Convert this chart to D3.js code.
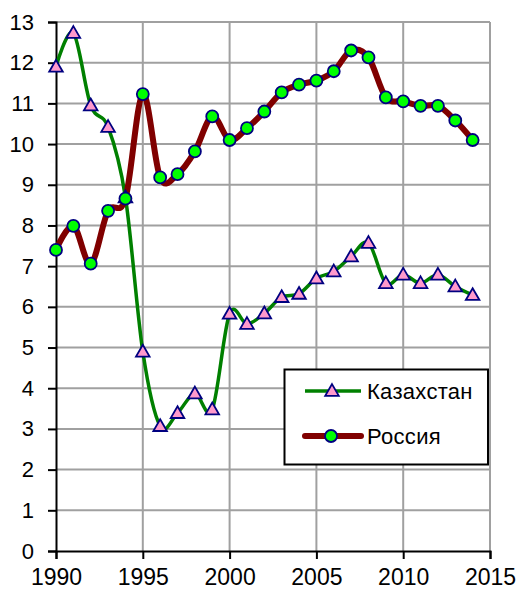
<!DOCTYPE html>
<html><head><meta charset="utf-8">
<script src="https://cdn.jsdelivr.net/npm/d3@7"></script>
<style>body{margin:0;background:#fff}svg{display:block}</style>
</head><body>
<svg id="c" width="519" height="589"></svg>
<script>
const years = d3.range(1990, 2015);
const kazakhstan = [11.9,12.73,10.95,10.42,8.69,4.9,3.07,3.39,3.87,3.48,5.83,5.58,5.84,6.24,6.32,6.7,6.87,7.24,7.57,6.58,6.79,6.58,6.79,6.5,6.29];
const russia = [7.4,7.99,7.06,8.36,8.66,11.23,9.18,9.26,9.82,10.68,10.1,10.39,10.8,11.27,11.46,11.56,11.79,12.3,12.13,11.15,11.05,10.94,10.94,10.58,10.1];
const xTicks = [1990,1995,2000,2005,2010,2015];
const yTicks = d3.range(0, 14);
const seriesNames = ["Казахстан","Россия"];

const svg = d3.select("#c");
const x = d3.scaleLinear().domain([1990,2015]).range([56,490]);
const y = d3.scaleLinear().domain([0,13]).range([551,22]);
const font = "'Liberation Sans', Arial, sans-serif";

// grid
const g = svg.append("g");
g.selectAll(".hg").data(yTicks.filter(d=>d>0)).join("line")
  .attr("x1",x(1990)).attr("x2",x(2015)).attr("y1",d=>y(d)).attr("y2",d=>y(d))
  .attr("stroke","#a0a0a0").attr("stroke-width",2);
g.selectAll(".vg").data(xTicks.filter(d=>d>1990)).join("line")
  .attr("y1",y(0)).attr("y2",y(13)).attr("x1",d=>x(d)).attr("x2",d=>x(d))
  .attr("stroke","#a0a0a0").attr("stroke-width",2);

// axes
const yAxis = d3.axisLeft(y).tickValues(yTicks).tickSize(8).tickPadding(14).tickFormat(d3.format("d"));
const xAxis = d3.axisBottom(x).tickValues(xTicks).tickSize(8).tickPadding(10).tickFormat(d3.format("d"));
const ya = svg.append("g").attr("transform",`translate(${x(1990)},0)`).call(yAxis);
const xa = svg.append("g").attr("transform",`translate(0,${y(0)})`).call(xAxis);
[ya,xa].forEach(a=>{
  a.select(".domain").attr("stroke","#000").attr("stroke-width",2);
  a.selectAll(".tick line").attr("stroke","#000").attr("stroke-width",2);
  a.selectAll("text").attr("font-family",font).attr("fill","#000");
});
ya.selectAll("text").attr("font-size",22);
xa.selectAll("text").attr("font-size",23);

const line = d3.line().x((d,i)=>x(years[i])).y(d=>y(d)).curve(d3.curveCardinal.tension(0));
svg.append("path").datum(kazakhstan).attr("d",line).attr("fill","none").attr("stroke","#008000").attr("stroke-width",3.5);
svg.append("path").datum(russia).attr("d",line).attr("fill","none").attr("stroke","#800000").attr("stroke-width",6);

const tri = d3.symbol().type(d3.symbolTriangle).size(80);
function triangle(sel){
  sel.attr("d",tri).attr("fill","#ff99cc").attr("stroke","#000080").attr("stroke-width",1.8);
}
function circle(sel){
  sel.attr("r",6).attr("fill","#00ff00").attr("stroke","#000080").attr("stroke-width",1.8);
}
svg.append("g").selectAll("path").data(kazakhstan).join("path")
  .attr("transform",(d,i)=>`translate(${x(years[i])},${y(d)+1})`).call(triangle);
svg.append("g").selectAll("circle").data(russia).join("circle")
  .attr("cx",(d,i)=>x(years[i])).attr("cy",d=>y(d)).call(circle);

// legend
const lg = svg.append("g");
lg.append("rect").attr("x",284.5).attr("y",369.5).attr("width",203.5).attr("height",95)
  .attr("fill","#fff").attr("stroke","#000").attr("stroke-width",2);
const ly = [391,436];
lg.append("line").attr("x1",305).attr("x2",361).attr("y1",ly[0]).attr("y2",ly[0]).attr("stroke","#008000").attr("stroke-width",3.5);
lg.append("line").attr("x1",305).attr("x2",361).attr("y1",ly[1]).attr("y2",ly[1]).attr("stroke","#800000").attr("stroke-width",6).attr("stroke-linecap","round");
lg.append("path").attr("transform",`translate(332,${ly[0]+1})`).call(triangle);
lg.append("circle").attr("cx",331).attr("cy",ly[1]).call(circle);
lg.selectAll("text").data(seriesNames).join("text")
  .attr("x",367).attr("y",(d,i)=>ly[i]).attr("dy","0.36em")
  .attr("font-family",font).attr("font-size",22).attr("letter-spacing",0.3).text(d=>d);
</script>
</body></html>
